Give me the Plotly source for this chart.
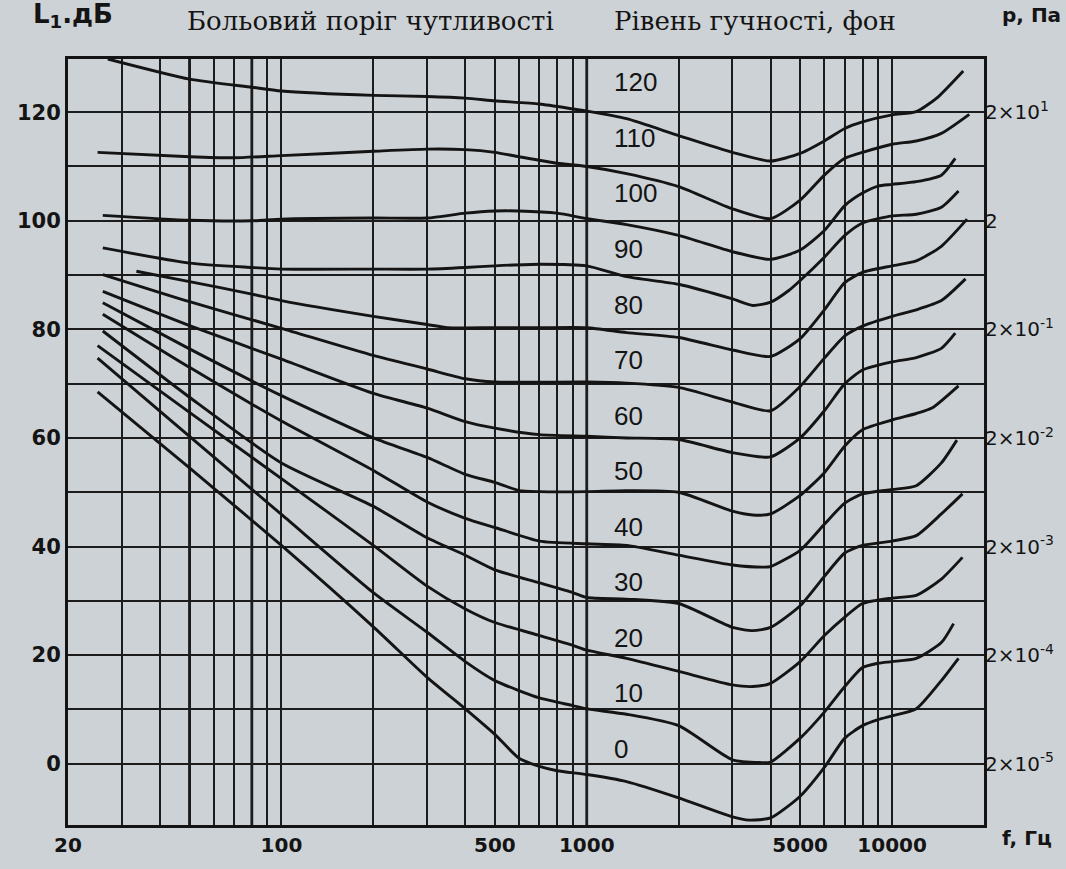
import plotly.graph_objects as go

# ---------------- data ----------------
phon_levels = [0, 10, 20, 30, 40, 50, 60, 70, 80, 90, 100, 110, 120]

f_0 = [25, 50, 100, 200, 300, 400, 500, 600, 700, 800, 1000, 1350, 2000, 3000, 3400, 4000, 5000, 6000, 7000, 8000, 9000, 10000, 12000, 14500, 16500]
L_0 = [68.5, 54.5, 40.2, 25.2, 15.9, 10.1, 5.4, 1.0, -0.5, -1.3, -2.0, -3.3, -6.3, -9.8, -10.4, -10.0, -6.0, -0.7, 4.7, 7.0, 8.1, 8.8, 10.1, 15.3, 19.4]

f_10 = [25, 50, 100, 200, 300, 400, 500, 700, 900, 1000, 1350, 2000, 3000, 3700, 4000, 5000, 6000, 7000, 8000, 9000, 10000, 12000, 14500, 15900]
L_10 = [74.7, 60.3, 45.9, 31.5, 24.2, 18.8, 15.3, 12.1, 10.7, 10.1, 9.1, 7.0, 0.7, 0.2, 0.3, 4.7, 9.5, 14.2, 17.7, 18.5, 18.8, 19.4, 22.3, 25.8]

f_20 = [25, 50, 100, 200, 300, 400, 500, 700, 900, 1000, 1350, 2000, 3000, 3500, 4000, 5000, 6000, 7000, 8000, 10000, 12000, 14500, 17000]
L_20 = [77.0, 64.7, 52.5, 40.2, 32.7, 28.5, 26.0, 23.6, 21.8, 20.9, 19.4, 17.0, 14.5, 14.2, 14.8, 18.8, 23.6, 27.0, 29.5, 30.5, 31.0, 34.0, 38.0]

f_30 = [26, 50, 100, 200, 300, 400, 500, 700, 900, 1000, 1350, 2000, 3000, 3500, 4000, 5000, 6000, 7000, 8000, 10000, 12000, 14500, 17000]
L_30 = [79.7, 67.5, 55.4, 47.4, 41.6, 38.4, 35.7, 33.3, 31.5, 30.6, 30.3, 29.5, 25.1, 24.5, 25.1, 29.1, 34.5, 38.8, 40.2, 41.0, 42.0, 46.0, 49.7]

f_40 = [26, 50, 100, 200, 300, 400, 500, 700, 1000, 1350, 2000, 3000, 3800, 4000, 5000, 6000, 7000, 8000, 10000, 12000, 14500, 16300]
L_40 = [82.8, 73.0, 63.1, 54.0, 48.2, 45.2, 43.5, 41.0, 40.5, 40.2, 38.4, 36.6, 36.2, 36.3, 39.3, 44.1, 48.0, 49.7, 50.5, 51.2, 55.4, 59.6]

f_50 = [26, 50, 100, 200, 300, 400, 500, 600, 700, 1000, 1350, 2000, 3000, 3500, 4000, 5000, 6000, 7000, 8000, 10000, 12000, 13500, 16500]
L_50 = [84.9, 76.4, 67.8, 60.0, 56.4, 53.3, 51.8, 50.3, 50.1, 50.1, 50.3, 50.0, 46.5, 45.8, 46.0, 49.4, 53.6, 58.5, 61.5, 63.3, 64.5, 65.5, 69.6]

f_60 = [26, 50, 100, 200, 300, 400, 500, 700, 1000, 1350, 2000, 3000, 4000, 5000, 6000, 7000, 8000, 10000, 12000, 14500, 16100]
L_60 = [87.0, 80.7, 74.5, 68.2, 65.5, 63.0, 61.8, 60.6, 60.3, 60.0, 59.7, 57.3, 56.5, 60.0, 65.0, 70.0, 72.5, 74.0, 74.8, 76.5, 79.3]

f_70 = [26, 50, 100, 200, 300, 400, 500, 1000, 1350, 2000, 3000, 4000, 5000, 6000, 7000, 8000, 10000, 12000, 14500, 17400]
L_70 = [90.1, 85.1, 80.2, 75.2, 72.7, 70.9, 70.3, 70.3, 70.1, 69.3, 66.6, 65.0, 69.5, 74.7, 78.8, 80.6, 82.4, 83.6, 85.3, 89.3]

f_80 = [33.5, 50, 80, 100, 200, 300, 350, 500, 700, 1000, 1350, 2000, 3000, 4000, 5000, 6000, 7000, 8000, 10000, 12000, 14500, 17600]
L_80 = [90.7, 88.8, 86.5, 85.3, 82.4, 80.9, 80.3, 80.3, 80.3, 80.3, 79.4, 78.5, 76.2, 75.0, 78.3, 83.6, 88.6, 90.5, 91.7, 92.6, 95.3, 100.3]

f_90 = [26, 50, 80, 100, 200, 300, 400, 500, 700, 1000, 1350, 2000, 3000, 3500, 4000, 4600, 5000, 6000, 7000, 8000, 10000, 12000, 14500, 16500]
L_90 = [95.0, 92.2, 91.4, 91.1, 91.1, 91.1, 91.4, 91.7, 92.0, 91.7, 89.7, 88.3, 85.6, 84.4, 85.0, 87.2, 89.0, 93.3, 97.3, 99.6, 100.9, 101.2, 102.5, 105.5]

f_100 = [26, 50, 80, 100, 200, 300, 400, 500, 600, 800, 1000, 1350, 2000, 3000, 4000, 5000, 6000, 7000, 8000, 9000, 10000, 12000, 14500, 16100]
L_100 = [101.0, 100.1, 100.0, 100.3, 100.5, 100.5, 101.4, 101.8, 101.8, 101.4, 100.4, 99.3, 97.3, 94.3, 92.9, 94.6, 98.2, 102.8, 105.1, 106.4, 106.7, 107.2, 108.4, 111.5]

f_110 = [25, 50, 70, 100, 200, 300, 400, 500, 600, 800, 1000, 1350, 2000, 3000, 4000, 5000, 6000, 7000, 8000, 10000, 12000, 14500, 17900]
L_110 = [112.6, 111.8, 111.6, 112.0, 112.8, 113.2, 113.1, 112.6, 111.8, 110.6, 110.0, 108.7, 106.3, 102.2, 100.4, 103.8, 108.4, 111.5, 112.6, 114.1, 114.7, 116.1, 119.6]

f_120 = [27, 50, 80, 100, 200, 300, 400, 500, 700, 900, 1000, 1350, 2000, 3000, 4000, 5000, 6000, 7000, 8000, 10000, 12000, 14000, 17100]
L_120 = [129.8, 126.1, 124.6, 123.9, 123.1, 122.9, 122.6, 122.1, 121.5, 120.6, 120.2, 118.8, 115.7, 112.6, 111.0, 112.4, 114.7, 117.0, 118.2, 119.5, 120.1, 122.6, 127.6]

curve_freqs = [f_0, f_10, f_20, f_30, f_40, f_50, f_60, f_70, f_80, f_90, f_100, f_110, f_120]
curve_levels = [L_0, L_10, L_20, L_30, L_40, L_50, L_60, L_70, L_80, L_90, L_100, L_110, L_120]

x_tick_vals = [20, 100, 500, 1000, 5000, 10000]
x_tick_text = ["20", "100", "500", "1000", "5000", "10000"]
x_minor_vals = [30, 40, 50, 60, 70, 80, 90, 200, 300, 400, 600, 700, 800, 900,
                2000, 3000, 4000, 6000, 7000, 8000, 9000]
thick_grid_freqs = [50, 80, 1000]   # grid lines drawn heavier in the original

y_tick_vals = [0, 20, 40, 60, 80, 100, 120]
y_tick_text = ["0", "20", "40", "60", "80", "100", "120"]
p_tick_text = ["2×10<sup>-5</sup>", "2×10<sup>-4</sup>", "2×10<sup>-3</sup>",
               "2×10<sup>-2</sup>", "2×10<sup>-1</sup>", "2", "2×10<sup>1</sup>"]

title_left = "Больовий поріг чутливості"
title_right = "Рівень гучності, фон"
y_title = "L<sub>1</sub>.дБ"
p_title = "p, Па"
x_title = "f, Гц"

# ---------------- styling ----------------
BG = "#cdd2d6"
INK = "#141414"
GRID = "#1c1c1c"
SANS = "Liberation Sans, Arial, sans-serif"
WIDE = "DejaVu Sans, sans-serif"
SERIF = "DejaVu Serif, serif"

fig = go.Figure()

for fx, ly in zip(curve_freqs, curve_levels):
    fig.add_trace(go.Scatter(
        x=fx, y=ly, mode="lines",
        line=dict(color=INK, width=2.9, shape="spline", smoothing=0.6),
        hoverinfo="skip", showlegend=False))

# invisible trace to bind the right (pressure) axis
fig.add_trace(go.Scatter(x=[x_tick_vals[0]], y=[y_tick_vals[0]], yaxis="y2",
                         mode="markers", marker=dict(opacity=0),
                         hoverinfo="skip", showlegend=False))

y_range = [-11.3, 129.8]

fig.update_layout(
    width=1066, height=869,
    margin=dict(l=68, r=82, t=59, b=34),
    paper_bgcolor=BG, plot_bgcolor=BG,
    xaxis=dict(
        type="log", range=[1.30103, 4.30103],
        tickmode="array", tickvals=x_tick_vals, ticktext=x_tick_text,
        showgrid=True, gridcolor=GRID, gridwidth=2,
        ticks="", showline=True, mirror=True, linecolor=INK, linewidth=3,
        tickfont=dict(family=WIDE, size=20, color=INK, weight="bold"),
        minor=dict(tickmode="array", tickvals=x_minor_vals, showgrid=True,
                   gridcolor=GRID, gridwidth=2, ticks=""),
        zeroline=False,
    ),
    yaxis=dict(
        range=y_range,
        tickmode="array", tickvals=y_tick_vals, ticktext=y_tick_text,
        showgrid=True, gridcolor=GRID, gridwidth=2,
        ticks="", showline=True, mirror=True, linecolor=INK, linewidth=3,
        tickfont=dict(family=WIDE, size=21, color=INK, weight="bold"),
        minor=dict(tickmode="array", tickvals=list(range(10, 120, 20)),
                   showgrid=True, gridcolor=GRID, gridwidth=2, ticks=""),
        zeroline=False,
    ),
    yaxis2=dict(
        range=y_range, overlaying="y", side="right",
        tickmode="array", tickvals=y_tick_vals, ticktext=p_tick_text,
        showgrid=False, ticks="", showline=False, zeroline=False,
        tickfont=dict(family=WIDE, size=20, color=INK),
    ),
)

# heavier grid lines
for fq in thick_grid_freqs:
    fig.add_shape(type="line", xref="x", yref="paper", x0=fq, x1=fq, y0=0, y1=1,
                  line=dict(color=GRID, width=2.8), layer="below")

# curve level labels
for lvl in phon_levels:
    fig.add_annotation(
        xref="paper", yref="y", x=0.594, y=lvl * 1.0233 + 2.7,
        xanchor="left", yanchor="middle", showarrow=False,
        text=str(lvl), font=dict(family=SANS, size=26, color=INK))

fig.add_annotation(xref="paper", yref="paper", x=0.1277, y=1.050,
                   xanchor="left", yanchor="middle", showarrow=False,
                   text=title_left, font=dict(family=SERIF, size=26, color=INK))
fig.add_annotation(xref="paper", yref="paper", x=0.594, y=1.050,
                   xanchor="left", yanchor="middle", showarrow=False,
                   text=title_right, font=dict(family=SERIF, size=26, color=INK))
fig.add_annotation(xref="paper", yref="paper", x=-0.040, y=1.057,
                   xanchor="left", yanchor="middle", showarrow=False,
                   text=y_title, font=dict(family=WIDE, size=26, color=INK, weight="bold"))
fig.add_annotation(xref="paper", yref="paper", x=1.0175, y=1.057,
                   xanchor="left", yanchor="middle", showarrow=False,
                   text=p_title, font=dict(family=WIDE, size=20, color=INK, weight="bold"))
fig.add_annotation(xref="paper", yref="paper", x=1.0175, y=-0.0168,
                   xanchor="left", yanchor="middle", showarrow=False,
                   text=x_title, font=dict(family=WIDE, size=20, color=INK, weight="bold"))

fig.write_html("out.html",
               config={"displayModeBar": False},
               post_script="document.body.style.margin='0';document.body.style.overflow='hidden';")
